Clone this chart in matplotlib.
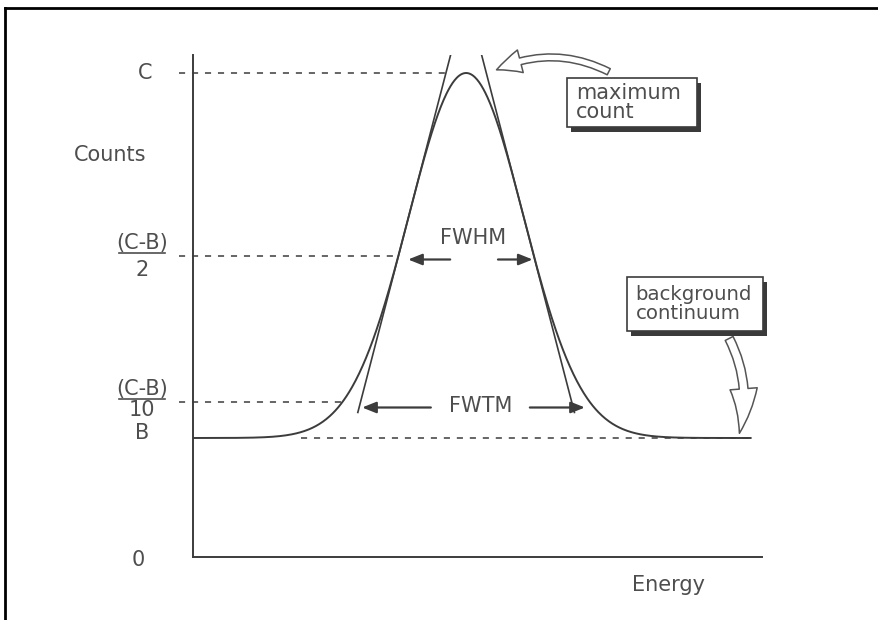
import numpy as np
import matplotlib
matplotlib.use("Agg")
import matplotlib.pyplot as plt
from matplotlib.patches import Rectangle, FancyArrowPatch
from matplotlib.lines import Line2D

# Gaussian photopeak sitting on a flat background continuum (arbitrary units)
background = 119.0        # B
max_count = 484.0         # C
centroid = 48.0
sigma = 10.1
energy_span = [0.0, 98.0]

level_names = ["C", "(C-B)", "(C-B)", "B", "0"]
level_denoms = ["", "2", "10", "", ""]
axis_titles = ["Counts", "Energy"]
width_names = ["FWHM", "FWTM"]
callout_texts = ["maximum\ncount", "background\ncontinuum"]

INK = "#3c3c3c"
TXT = "#4e4e4e"
FONT = "DejaVu Sans"
FS = 15

amp = max_count - background
half_level = background + amp / 2
tenth_level = background + amp / 10

energy = np.linspace(energy_span[0], energy_span[1], 800)
counts = background + amp * np.exp(-0.5 * ((energy - centroid) / sigma) ** 2)

fig = plt.figure(figsize=(8.79, 6.2), dpi=100)
fig.patch.set_facecolor("white")
ax = fig.add_axes([193 / 879, 63 / 620, 569 / 879, 502 / 620])
ax.set_xlim(0, 100)
ax.set_ylim(0, 502)
for s in ("top", "right"):
    ax.spines[s].set_visible(False)
for s in ("left", "bottom"):
    ax.spines[s].set_color(INK)
    ax.spines[s].set_linewidth(1.4)
ax.set_xticks([])
ax.set_yticks([])

# page frame
fig.add_artist(Line2D([5 / 879, 1], [1 - 8 / 620] * 2, transform=fig.transFigure,
                      color="black", lw=2))
fig.add_artist(Line2D([5 / 879] * 2, [0, 1 - 8 / 620], transform=fig.transFigure,
                      color="black", lw=2))

# peak
ax.plot(energy, counts, color=INK, lw=1.4, zorder=3)

# tangents through the inflection points
k = np.exp(-0.5)
slope = amp * k / sigma
for sign in (-1, 1):
    fr = np.array([0.07, 1.07])
    xs = centroid + sign * (2 * sigma - fr / k * sigma)
    ax.plot(xs, background + fr * amp, color=INK, lw=1.2, zorder=3)

# dashed reference levels
def hz_dashed(y, x0, x1):
    ax.add_line(Line2D([x0, x1], [y, y], color=INK, lw=1.1, dashes=(4, 4.5),
                       clip_on=False, zorder=2))

x_half = sigma * np.sqrt(2 * np.log(2))
x_tenth = sigma * np.sqrt(2 * np.log(10))
x_top = centroid - sigma + (max_count - (background + amp * k)) / slope
hz_dashed(max_count, -2.5, x_top)
hz_dashed(half_level, -2.5, centroid - x_half)
hz_dashed(tenth_level, -2.5, centroid - x_tenth)
hz_dashed(background, 19.0, energy_span[1])

# width arrows
arrow_kw = dict(arrowstyle="-|>,head_length=0.7,head_width=0.28", color=INK, lw=1.6,
                shrinkA=0, shrinkB=0, mutation_scale=12)
ax.annotate("", xy=(centroid - x_half + 1.7, half_level - 4), xytext=(45.2, half_level - 4),
            arrowprops=arrow_kw)
ax.annotate("", xy=(centroid + x_half - 0.2, half_level - 4), xytext=(53.6, half_level - 4),
            arrowprops=arrow_kw)
ax.text(49.2, half_level + 17, width_names[0], ha="center", va="center",
        fontsize=FS, color=TXT, family=FONT)

ax.annotate("", xy=(centroid - x_tenth + 3.4, tenth_level - 6), xytext=(41.8, tenth_level - 6),
            arrowprops=arrow_kw)
ax.annotate("", xy=(centroid + x_tenth - 0.8, tenth_level - 6), xytext=(59.2, tenth_level - 6),
            arrowprops=arrow_kw)
ax.text(50.6, tenth_level - 5, width_names[1], ha="center", va="center",
        fontsize=FS, color=TXT, family=FONT)

# level labels on the left
lx = -9.0
tk = dict(ha="center", va="center", fontsize=FS, color=TXT, family=FONT, clip_on=False)
ax.text(lx + 0.6, max_count, level_names[0], **tk)
for lvl, num, den, up, ul, dn in ((half_level, level_names[1], level_denoms[1], 13, 3, -14),
                                  (tenth_level, level_names[2], level_denoms[2], 12, 3, -9)):
    ax.text(lx, lvl + up, num, **tk)
    ax.add_line(Line2D([lx - 4.0, lx + 4.0], [lvl + ul, lvl + ul], color=TXT, lw=1.2,
                       clip_on=False))
    ax.text(lx, lvl + dn, den, **tk)
ax.text(lx, background + 5, level_names[3], **tk)
ax.text(lx - 0.6, -3, level_names[4], **tk)
ax.text(-14.5, 402, axis_titles[0], **tk)
ax.text(83.6, -28, axis_titles[1], **tk)

# call-out boxes with drop shadows
def callout(x0, y0, w, h, text, fs):
    ax.add_patch(Rectangle((x0 + 0.7, y0 - 5), w, h, facecolor="#3a3a3a",
                           edgecolor="none", clip_on=False, zorder=4))
    ax.add_patch(Rectangle((x0, y0), w, h, facecolor="white", edgecolor=INK, lw=1.2,
                           clip_on=False, zorder=5))
    ax.text(x0 + 1.6, y0 + h / 2, text, ha="left", va="center", fontsize=fs,
            color=TXT, family=FONT, linespacing=0.95, zorder=6, clip_on=False)

callout(65.7, 430, 22.9, 49, callout_texts[0], FS)
callout(76.2, 226, 24.0, 54, callout_texts[1], 14.2)

# hollow curved pointers
hollow = dict(facecolor="white", edgecolor="#555555", lw=1.1, clip_on=False, zorder=6)
ax.add_patch(FancyArrowPatch((73.5, 484), (52.9, 486),
                             connectionstyle="arc3,rad=0.25",
                             arrowstyle="simple,head_length=1.3,head_width=1.2,tail_width=0.35",
                             mutation_scale=14, **hollow))
ax.add_patch(FancyArrowPatch((94.0, 221), (95.9, background + 2),
                             connectionstyle="arc3,rad=-0.2",
                             arrowstyle="simple,head_length=2.3,head_width=1.4,tail_width=0.45",
                             mutation_scale=14, **hollow))

fig.savefig("out.png", dpi=100, facecolor="white")
